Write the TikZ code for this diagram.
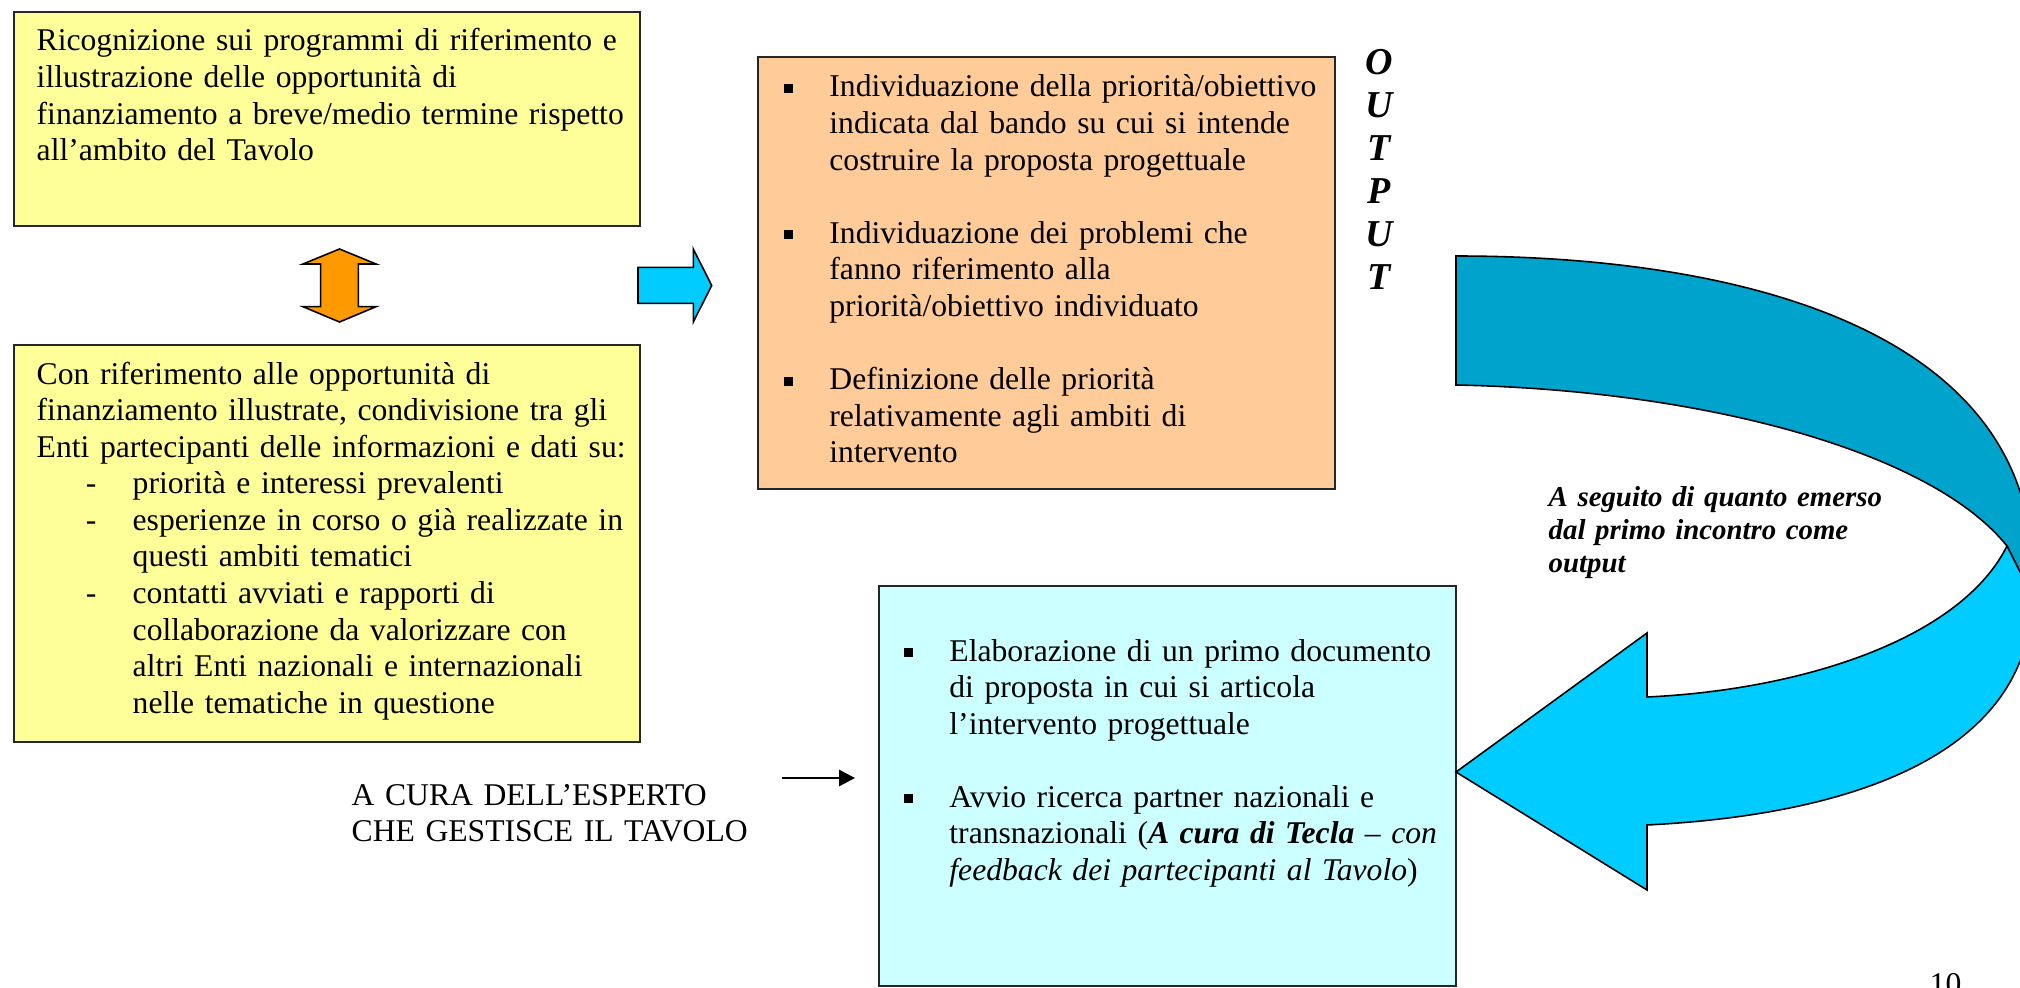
\documentclass[tikz,border=0pt]{standalone}
\usepackage{fontspec}
\setmainfont{Liberation Serif}
\usetikzlibrary{arrows.meta}

\definecolor{giallino}{HTML}{FFFF99}
\definecolor{pesca}{HTML}{FFCC99}
\definecolor{azzurrino}{HTML}{CCFFFF}
\definecolor{arancio}{HTML}{FF9900}
\definecolor{ciano}{HTML}{00CCFF}
\definecolor{cianoscuro}{RGB}{0,163,204}

\setlength{\parskip}{0pt}
\newcommand\quadratino{\rule[1.1pt]{2.6pt}{2.6pt}}
\newcommand\voce{\noindent\hangindent=13pt\hangafter=1\makebox[13pt][l]{\quadratino}}
\newcommand\trattino{\par\noindent\hangindent=27.3pt\hangafter=1\hspace*{14pt}\makebox[13.3pt][l]{-}}

\begin{document}
\begin{tikzpicture}[x=0.01cm, y=-0.01cm,
    riquadro/.style={draw=black!85, line width=0.55pt},
    freccia/.style={draw=black, line width=0.45pt, line join=miter},
    testo/.style={inner sep=0pt, align=left, font=\fontsize{9}{10.4}\selectfont},
    grassetto/.style={inner sep=0pt, font=\fontsize{8.2}{9.5}\selectfont\bfseries\itshape}]
    \useasboundingbox (0,0) rectangle (2020,988);

    % riquadri
    \draw[riquadro, fill=giallino] (14,12) rectangle (640,226);
    \draw[riquadro, fill=giallino] (14,345) rectangle (640,742);
    \draw[riquadro, fill=pesca] (758,57) rectangle (1335,489);
    \draw[riquadro, fill=azzurrino] (879,586) rectangle (1456,986);

    % frecce piene
    \draw[freccia, fill=arancio]
        (339.5,249) -- (376,264) -- (358.3,264) -- (358.3,306.7) -- (376,306.7)
        -- (339.5,322) -- (303,306.7) -- (320.7,306.7) -- (320.7,264) -- (303,264) -- cycle;
    \draw[freccia, fill=ciano]
        (638,267.3) -- (693.3,267.3) -- (693.3,249) -- (711.7,285.5)
        -- (693.3,322) -- (693.3,303.3) -- (638,303.3) -- cycle;

    % freccia curva (retro)
    \draw[freccia, fill=cianoscuro]
        (1456,256)
        .. controls (1740,256) and (2050,330) ..
        (2032,596)
        -- (2007,546)
        .. controls (1930,450) and (1700,390) ..
        (1456,385) -- cycle;
    % freccia curva (fronte)
    \draw[freccia, fill=ciano]
        (2007,546) -- (2032,596)
        .. controls (2032,730) and (1900,812) ..
        (1647,825) -- (1647,890) -- (1456,772) -- (1647,633) -- (1647,697)
        .. controls (1800,690) and (1960,640) ..
        (2007,546) -- cycle;

    % testi
    \node[testo, text width=6.1cm, anchor=base west] (ricognizione) at (36,51)
        {Ricognizione sui programmi di riferimento e\\
         illustrazione delle opportunità di\\
         finanziamento a breve/medio termine rispetto\\
         all’ambito del Tavolo};

    \node[testo, text width=6.1cm, anchor=base west] (condivisione) at (36,384)
        {Con riferimento alle opportunità di\\
         finanziamento illustrate, condivisione tra gli\\
         Enti partecipanti delle informazioni e dati su:
         \trattino priorità e interessi prevalenti
         \trattino esperienze in corso o già realizzate in\newline questi ambiti tematici
         \trattino contatti avviati e rapporti di\newline collaborazione da valorizzare con\newline
             altri Enti nazionali e internazionali\newline nelle tematiche in questione\par};

    \node[testo, text width=5.6cm, anchor=base west] (individuazione) at (783,97)
        {\voce Individuazione della priorità/obiettivo\newline
             indicata dal bando su cui si intende\newline costruire la proposta progettuale
         \par\vspace{10.4pt}
         \voce Individuazione dei problemi che\newline fanno riferimento alla\newline
             priorità/obiettivo individuato
         \par\vspace{10.4pt}
         \voce Definizione delle priorità\newline relativamente agli ambiti di\newline intervento\par};

    \node[inner sep=0pt, text width=1cm, align=center, anchor=base,
          font=\fontsize{10.8}{12.2}\selectfont\bfseries\itshape] (output) at (1379,74.5)
        {O\\U\\T\\P\\U\\T};

    \node[grassetto, text width=4.6cm, align=left, anchor=base west] (seguito) at (1548,506)
        {A seguito di quanto emerso\\ dal primo incontro come\\ output};

    \node[testo, text width=5.6cm, anchor=base west] (elaborazione) at (903,661)
        {\voce Elaborazione di un primo documento\newline di proposta in cui si articola\newline
             l’intervento progettuale
         \par\vspace{10.4pt}
         \voce Avvio ricerca partner nazionali e\newline
             transnazionali (\textbf{\textit{A cura di Tecla}} – \textit{con}\newline
             \textit{feedback dei partecipanti al Tavolo})\par};

    \node[testo, text width=4.2cm, anchor=base west] (cura) at (351,805)
        {A CURA DELL’ESPERTO\\ CHE GESTISCE IL TAVOLO};

    \coordinate (cura-da) at (782,778);
    \coordinate (cura-a) at (855,778);
    \draw[line width=0.5pt, -{Triangle[length=4.5pt, width=4.6pt]}] (cura-da) -- (cura-a);

    \node[testo, anchor=north west] (pagina) at (1929,973) {10};
\end{tikzpicture}
\end{document}
